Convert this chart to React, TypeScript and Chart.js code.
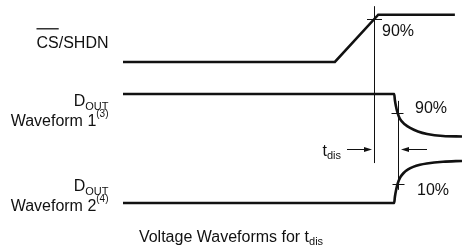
import React, { useEffect, useRef } from "react";
import { Chart, registerables } from "chart.js";

Chart.register(...registerables);

// ---- data (time in arbitrary units, levels normalised 0..1 per trace) ----
const csTime = [0, 62.5, 75.3, 97.9];
const csLevel = [0, 0, 1, 1];
const d1Time = [0, 80.0, 80.2, 80.5, 81.0, 81.7, 83.2, 84.7, 87.0, 89.7, 94.4, 100];
const d1Level = [1, 1, 0.86, 0.72, 0.56, 0.42, 0.29, 0.21, 0.128, 0.07, 0.023, 0.012];
const d2Time = [0, 80.0, 80.2, 80.5, 81.0, 81.7, 82.7, 84.1, 85.6, 87.6, 89.6, 94.4, 100];
const d2Level = [0, 0, 0.14, 0.28, 0.45, 0.59, 0.7, 0.79, 0.85, 0.9, 0.93, 0.97, 0.99];
const markerTimes = [74.1, 81.0];
const thresholdLabels = ["90%", "90%", "10%"];
const thresholdLevels = [0.9, 0.56, 0.44];
const traceNames = ["CS/SHDN", "Waveform 1", "Waveform 2"];
const traceNotes = ["", "(3)", "(4)"];
const titleText = "Voltage Waveforms for t";
const titleSub = "dis";

// ---- layout ----
const W = 462;
const H = 249;
const X_START_PX = 123;
const X_END_PX = 462;
const ROWS: Record<string, [number, number]> = {
  yCS: [62, 14.7],
  yD1: [137, 94],
  yD2: [203, 160.5],
};
const FONT = '"Liberation Sans", Arial, Helvetica, sans-serif';
const INK = "#111";

function yRange(lo: number, hi: number) {
  const k = lo - hi;
  const max = 1 + hi / k;
  return { min: max - H / k, max };
}
const pxPerUnit = (X_END_PX - X_START_PX) / 100;
const xMin = -X_START_PX / pxPerUnit;
const xMax = xMin + W / pxPerUnit;

const pts = (t: number[], v: number[]) => t.map((x, i) => ({ x, y: v[i] }));

function drawSubText(
  ctx: CanvasRenderingContext2D,
  main: string,
  small: string,
  x: number,
  y: number,
  align: "left" | "right" | "center",
  shift: number,
  mainSize = 16,
  smallSize = 11
) {
  ctx.font = `${mainSize}px ${FONT}`;
  const wm = ctx.measureText(main).width;
  ctx.font = `${smallSize}px ${FONT}`;
  const ws = small ? ctx.measureText(small).width : 0;
  const total = wm + ws;
  let sx = x;
  if (align === "right") sx = x - total;
  else if (align === "center") sx = x - total / 2;
  ctx.textAlign = "left";
  ctx.textBaseline = "alphabetic";
  ctx.font = `${mainSize}px ${FONT}`;
  ctx.fillText(main, sx, y);
  if (small) {
    ctx.font = `${smallSize}px ${FONT}`;
    ctx.fillText(small, sx + wm, y + shift);
  }
  return { start: sx, mainWidth: wm };
}

function seg(ctx: CanvasRenderingContext2D, x1: number, y1: number, x2: number, y2: number) {
  ctx.beginPath();
  ctx.moveTo(x1, y1);
  ctx.lineTo(x2, y2);
  ctx.stroke();
}

function arrow(ctx: CanvasRenderingContext2D, from: number, to: number, y: number) {
  const dir = Math.sign(to - from);
  const head = 8;
  seg(ctx, from, y, to - dir * head, y);
  ctx.beginPath();
  ctx.moveTo(to, y);
  ctx.lineTo(to - dir * head, y - 2.6);
  ctx.lineTo(to - dir * head, y + 2.6);
  ctx.closePath();
  ctx.fill();
}

const annotations = {
  id: "timingAnnotations",
  afterDatasetsDraw(chart: any) {
    const ctx: CanvasRenderingContext2D = chart.ctx;
    const x = chart.scales.x;
    const yc = chart.scales.yCS;
    const y1 = chart.scales.yD1;
    const y2 = chart.scales.yD2;
    const crisp = (v: number) => Math.round(v) + 0.5;
    ctx.save();
    ctx.strokeStyle = INK;
    ctx.fillStyle = INK;
    ctx.lineWidth = 1;

    const m1 = crisp(x.getPixelForValue(markerTimes[0]));
    const m2 = crisp(x.getPixelForValue(markerTimes[1]));
    // marker lines
    seg(ctx, m1, yc.getPixelForValue(1.18), m1, y2.getPixelForValue(0.94));
    seg(ctx, m2, y1.getPixelForValue(0.84), m2, y2.getPixelForValue(0.31));
    // threshold ticks
    const t0 = crisp(yc.getPixelForValue(thresholdLevels[0]));
    const t1 = crisp(y1.getPixelForValue(thresholdLevels[1]));
    const t2 = crisp(y2.getPixelForValue(thresholdLevels[2]));
    seg(ctx, m1 - 7.5, t0, m1 + 7.5, t0);
    seg(ctx, m2 - 7, t1, m2 + 5, t1);
    seg(ctx, m2 - 6, t2, m2 + 6, t2);

    // t_dis arrows
    const ay = crisp(y1.getPixelForValue(-0.286));
    arrow(ctx, m1 - 27.5, m1 - 2.5, ay);
    arrow(ctx, m2 + 28.5, m2 + 2.5, ay);

    // threshold labels
    ctx.font = `16px ${FONT}`;
    ctx.textAlign = "left";
    ctx.textBaseline = "alphabetic";
    ctx.fillText(thresholdLabels[0], m1 + 7.5, t0 + 16);
    ctx.fillText(thresholdLabels[1], m2 + 16.5, t1 - 0.5);
    ctx.fillText(thresholdLabels[2], m2 + 18.5, t2 + 10);

    // t_dis label
    drawSubText(ctx, "t", titleSub, m1 - 33.5, ay + 6, "right", 3.5);

    // left labels
    const right = 108.5;
    const cs = drawSubText(ctx, traceNames[0], "", right, 48, "right", 0);
    ctx.font = `16px ${FONT}`;
    const csW = ctx.measureText("CS").width;
    ctx.lineWidth = 1.3;
    seg(ctx, cs.start, 28.8, cs.start + csW, 28.8);
    ctx.lineWidth = 1;

    const d1 = y1.getPixelForValue(1);
    drawSubText(ctx, "D", "OUT", right, d1 + 12, "right", 3.5);
    drawSubText(ctx, traceNames[1], traceNotes[1], right, d1 + 32, "right", -9.5, 16, 10);
    const d2 = y2.getPixelForValue(0);
    drawSubText(ctx, "D", "OUT", right, d2 - 12, "right", 3.5);
    drawSubText(ctx, traceNames[2], traceNotes[2], right, d2 + 8, "right", -9.5, 16, 10);

    // title
    drawSubText(ctx, titleText, titleSub, W / 2, 241.5, "center", 3.5);
    ctx.restore();
  },
};

export default function App() {
  const ref = useRef<HTMLCanvasElement>(null);
  useEffect(() => {
    if (!ref.current) return;
    const base = {
      borderColor: INK,
      borderWidth: 2.6,
      pointRadius: 0,
      fill: false,
      borderCapStyle: "butt" as const,
      borderJoinStyle: "miter" as const,
    };
    const chart = new Chart(ref.current, {
      type: "line",
      data: {
        datasets: [
          { ...base, label: traceNames[0], data: pts(csTime, csLevel), yAxisID: "yCS", tension: 0 },
          {
            ...base,
            label: traceNames[1],
            data: pts(d1Time, d1Level),
            yAxisID: "yD1",
            cubicInterpolationMode: "monotone",
          },
          {
            ...base,
            label: traceNames[2],
            data: pts(d2Time, d2Level),
            yAxisID: "yD2",
            cubicInterpolationMode: "monotone",
          },
        ],
      },
      options: {
        animation: false,
        responsive: false,
        devicePixelRatio: 1,
        layout: { padding: 0 },
        plugins: { legend: { display: false }, tooltip: { enabled: false }, title: { display: false } },
        scales: {
          x: { type: "linear", display: false, min: xMin, max: xMax },
          yCS: { type: "linear", display: false, ...yRange(ROWS.yCS[0], ROWS.yCS[1]) },
          yD1: { type: "linear", display: false, ...yRange(ROWS.yD1[0], ROWS.yD1[1]) },
          yD2: { type: "linear", display: false, ...yRange(ROWS.yD2[0], ROWS.yD2[1]) },
        },
      },
      plugins: [annotations],
    });
    return () => chart.destroy();
  }, []);
  return (
    <div style={{ position: "fixed", left: 0, top: 0, width: W, height: H, background: "#fff" }}>
      <canvas ref={ref} width={W} height={H} style={{ display: "block" }} />
    </div>
  );
}
